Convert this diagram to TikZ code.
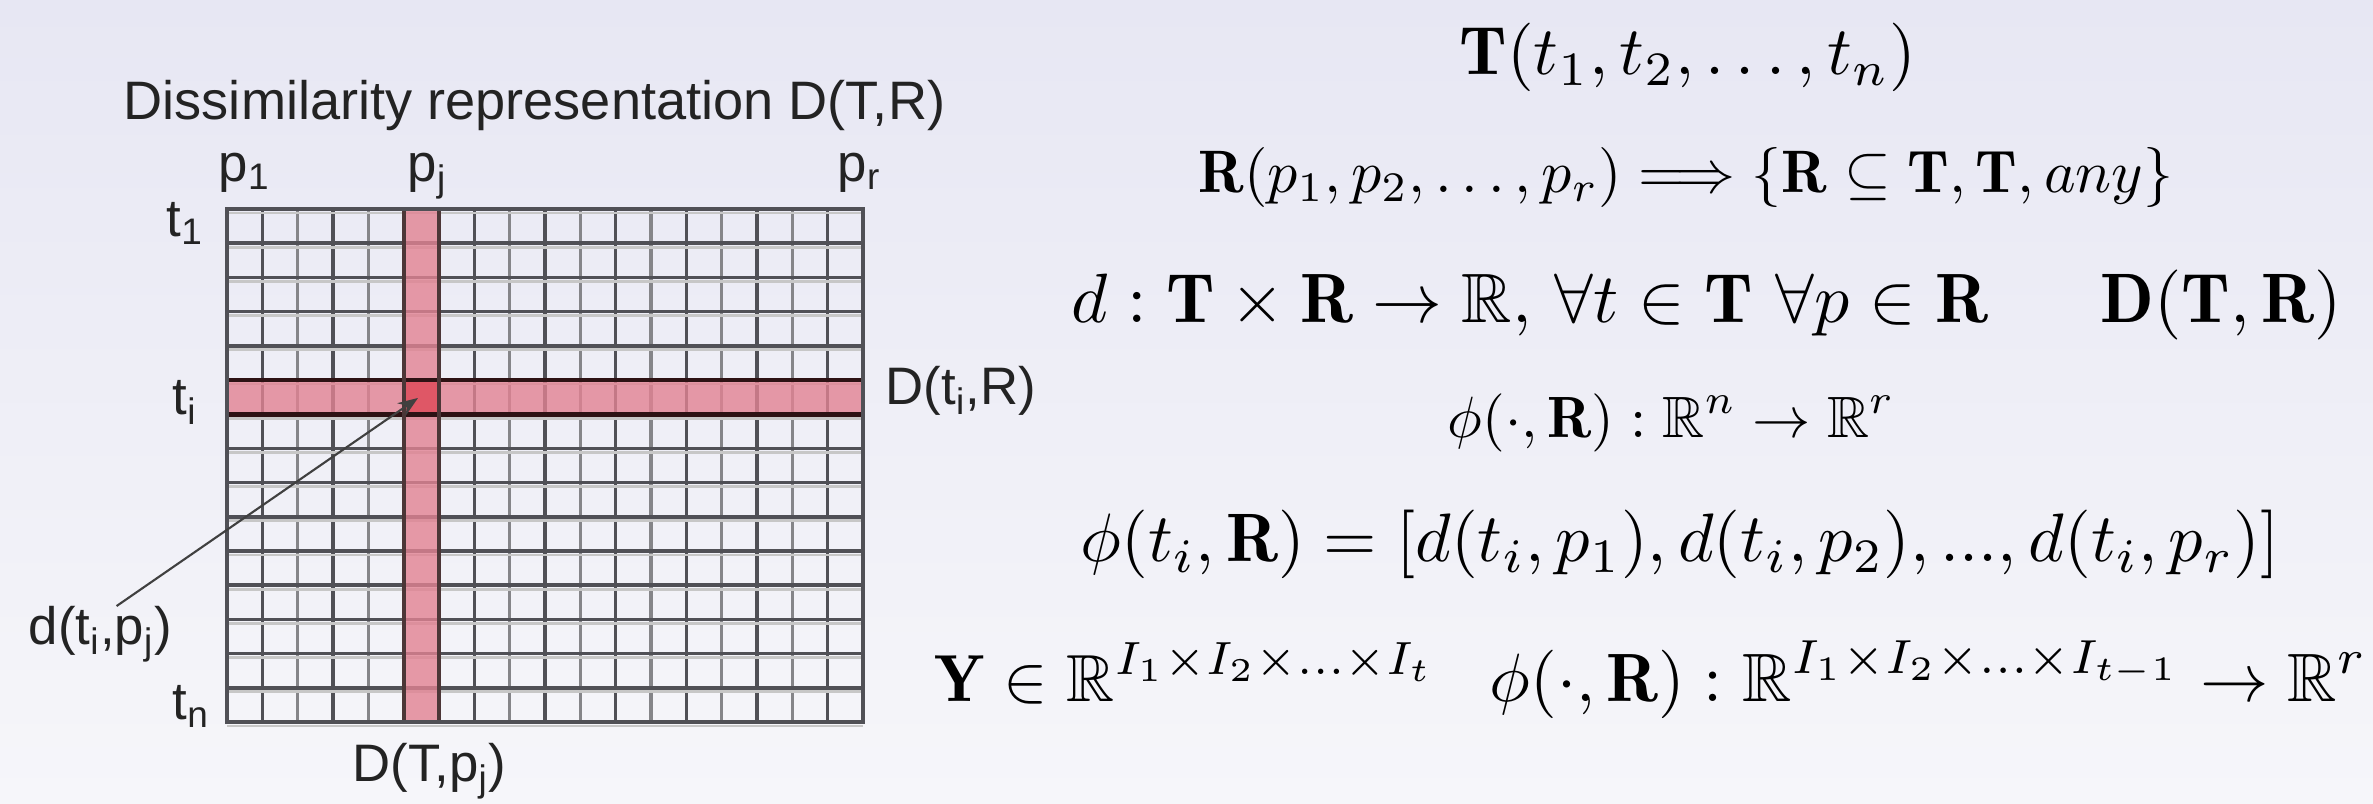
\documentclass[tikz,border=0pt]{standalone}
\usepackage{fontspec}
\setsansfont{Liberation Sans}
\usepackage{amsmath,amssymb}
\usetikzlibrary{arrows.meta,calc,positioning}
\definecolor{bgtop}{RGB}{231,231,243}
\definecolor{bgbot}{RGB}{246,246,250}
\definecolor{bandpink}{RGB}{226,130,146}
\definecolor{cellred}{RGB}{222,50,64}
\definecolor{bandedge}{RGB}{45,18,20}
\definecolor{gridgray}{RGB}{80,80,86}
\definecolor{labelgray}{RGB}{35,35,35}
\newcommand{\fiteq}[2]{\resizebox{#1}{!}{$\displaystyle #2$}}

\begin{document}
\begin{tikzpicture}[x=0.01cm,y=-0.01cm,>=Stealth,
  lbl/.style={font=\sffamily\fontsize{15}{18}\selectfont,text=labelgray,inner sep=0pt,anchor=base west},
  eq/.style={inner sep=0pt,anchor=base west},
  gridline/.style={gridgray,line width=1pt},
  shadowline/.style={black!22,line width=0.8pt}]
  % fondo
  \shade[top color=bgtop,bottom color=bgbot] (0,0) rectangle (2373,804);
  \useasboundingbox (0,0) rectangle (2373,804);
  % rejilla de la matriz D(T,R)
  \foreach \i in {0,...,18} {
    \pgfmathsetmacro{\shadeval}{isodd(\i) ? 100 : 70}
    \draw[gridline,gridgray!\shadeval!white] ({227+\i*35.333},209) -- ({227+\i*35.333},722);
  }
  \foreach \j in {0,...,15} {
    \draw[shadowline] (227,{213+\j*34.2}) -- (863,{213+\j*34.2});
    \draw[gridline] (227,{209+\j*34.2}) -- (863,{209+\j*34.2});
  }
  % fila t_i y columna p_j
  \fill[bandpink,opacity=0.8] (403.67,209) rectangle (439,722);
  \fill[bandpink,opacity=0.8] (227,380) rectangle (863,414.2);
  \fill[cellred,opacity=0.55] (403.67,380) rectangle (439,414.2);
  \draw[bandedge,line width=1.4pt] (227,380) -- (863,380) (227,414.2) -- (863,414.2);
  \draw[bandedge!85,line width=1.1pt] (403.67,209) -- (403.67,722) (439,209) -- (439,722);
  \draw[gridgray,line width=1.2pt] (227,209) rectangle (863,722);
  % etiquetas
  \node[lbl,font=\sffamily\fontsize{15.4}{18}\selectfont] (title) at (123,120) {Dissimilarity representation D(T,R)};
  \node[lbl] (p1) at (218,182) {p\textsubscript{1}};
  \node[lbl] (pj) at (407,182) {p\textsubscript{j}};
  \node[lbl] (pr) at (837,182) {p\textsubscript{r}};
  \node[lbl] (t1) at (166,237) {t\textsubscript{1}};
  \node[lbl] (ti) at (172,415) {t\textsubscript{i}};
  \node[lbl] (tn) at (172,720) {t\textsubscript{n}};
  \node[lbl] (Dti) at (885,405) {D(t\textsubscript{i},R)};
  \node[lbl] (DTpj) at (352,782) {D(T,p\textsubscript{j})};
  \node[lbl] (dtp) at (28,645) {d(t\textsubscript{i},p\textsubscript{j})};
  \coordinate (cellij) at (418,398);
  \draw[->,black!75,line width=0.6pt] (dtp.60) -- (cellij);
  % ecuaciones
  \node[eq] (eqT) at (1459,75) {\fiteq{4.56cm}{\mathbf{T}(t_1,t_2,\ldots,t_n)}};
  \node[eq] (eqR) at (1198,193) {\fiteq{9.74cm}{\mathbf{R}(p_1,p_2,\ldots,p_r)\Longrightarrow\{\mathbf{R}\subseteq\mathbf{T},\mathbf{T},any\}}};
  \node[eq] (eqd) at (1071,323) {\fiteq{9.16cm}{d:\mathbf{T}\times\mathbf{R}\rightarrow\mathbb{R},\,\forall t\in\mathbf{T}\ \forall p\in\mathbf{R}}};
  \node[eq] (eqD) at (2100,323) {\fiteq{2.41cm}{\mathbf{D}(\mathbf{T},\mathbf{R})}};
  \node[eq] (eqphi) at (1447,438) {\fiteq{4.47cm}{\phi(\cdot,\mathbf{R}):\mathbb{R}^n\rightarrow\mathbb{R}^r}};
  \node[eq] (eqphiti) at (1080,562) {\fiteq{11.98cm}{\phi(t_i,\mathbf{R})=[d(t_i,p_1),d(t_i,p_2),...,d(t_i,p_r)]}};
  \node[eq] (eqY) at (934,702) {\fiteq{5.00cm}{\mathbf{Y}\in\mathbb{R}^{I_1\times I_2\times...\times I_t}}};
  \node[eq] (eqphiI) at (1489,702) {\fiteq{8.77cm}{\phi(\cdot,\mathbf{R}):\mathbb{R}^{I_1\times I_2\times...\times I_{t-1}}\rightarrow\mathbb{R}^r}};
\end{tikzpicture}
\end{document}
